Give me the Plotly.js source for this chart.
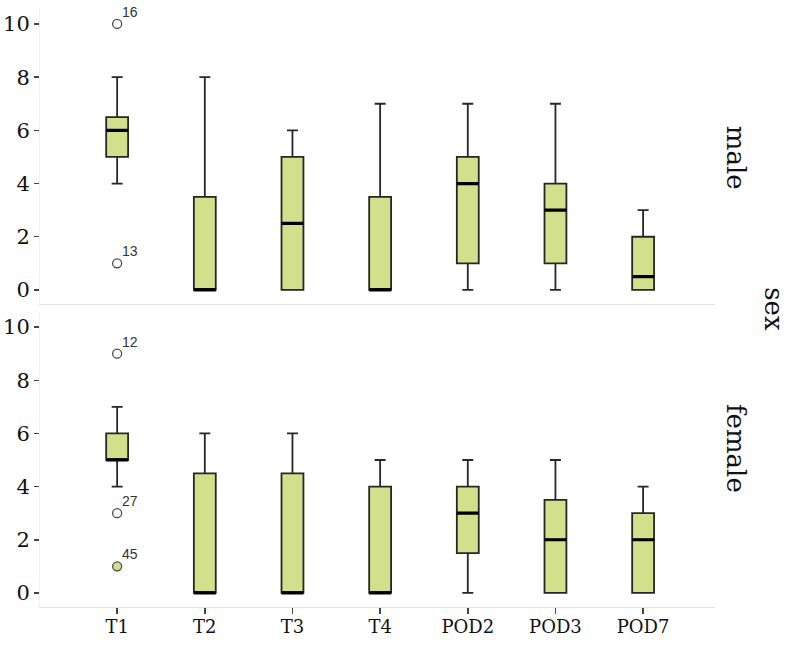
<!DOCTYPE html>
<html>
<head>
<meta charset="utf-8">
<script src="https://cdn.plot.ly/plotly-3.0.1.min.js"></script>
<style>
  html, body { margin: 0; padding: 0; background: #ffffff; }
  #chart { width: 794px; height: 650px; }
</style>
</head>
<body>
<div id="chart"></div>
<script>
// ---- data ----
var categories = ['T1', 'T2', 'T3', 'T4', 'POD2', 'POD3', 'POD7'];
var yTickValues = [0, 2, 4, 6, 8, 10];

// male panel box statistics
var maleQ1         = [5,   0,   0,   0,   1,   1,   0];
var maleMedian     = [6,   0,   2.5, 0,   4,   3,   0.5];
var maleQ3         = [6.5, 3.5, 5,   3.5, 5,   4,   2];
var maleLowerFence = [4,   0,   0,   0,   0,   0,   0];
var maleUpperFence = [8,   8,   6,   7,   7,   7,   3];
var maleOutlierX      = ['T1', 'T1'];
var maleOutlierY      = [10, 1];
var maleOutlierLabels = ['16', '13'];

// female panel box statistics
var femaleQ1         = [5, 0,   0,   0, 1.5, 0,   0];
var femaleMedian     = [5, 0,   0,   0, 3,   2,   2];
var femaleQ3         = [6, 4.5, 4.5, 4, 4,   3.5, 3];
var femaleLowerFence = [4, 0,   0,   0, 0,   0,   0];
var femaleUpperFence = [7, 6,   6,   5, 5,   5,   4];
var femaleOutlierX      = ['T1', 'T1', 'T1'];
var femaleOutlierY      = [9, 3, 1];
var femaleOutlierLabels = ['12', '27', '45'];

var panelLabels = ['male', 'female'];
var facetTitle = 'sex';

// ---- styles ----
var boxFill = '#d3e08b';
var boxLine = '#262626';
var boxWidth = 0.25;
var serif = 'DejaVu Serif, serif';
var sans = 'Liberation Sans, Arial, sans-serif';

function boxTrace(q1, med, q3, lo, hi, xa, ya) {
  return {
    type: 'box', x: categories, q1: q1, median: med, q3: q3,
    lowerfence: lo, upperfence: hi,
    xaxis: xa, yaxis: ya,
    width: boxWidth, whiskerwidth: 0.5,
    fillcolor: boxFill,
    line: { color: boxLine, width: 1.8 },
    boxpoints: false, showlegend: false, hoverinfo: 'skip'
  };
}
function medianTrace(med, xa, ya) {
  return {
    type: 'box', x: categories, q1: med, median: med, q3: med,
    lowerfence: med, upperfence: med,
    xaxis: xa, yaxis: ya,
    width: boxWidth, whiskerwidth: 0.5,
    fillcolor: 'rgba(0,0,0,0)',
    line: { color: '#000000', width: 3.2 },
    boxpoints: false, showlegend: false, hoverinfo: 'skip'
  };
}
function outlierTrace(xs, ys, colors, xa, ya) {
  return {
    type: 'scatter', mode: 'markers',
    x: xs, y: ys,
    marker: { symbol: 'circle', size: 9, color: colors,
              line: { color: '#4a4a4a', width: 1.3 } },
    xaxis: xa, yaxis: ya, showlegend: false, hoverinfo: 'skip', cliponaxis: false
  };
}
function outlierLabels(xs, ys, labels, xa, ya) {
  return labels.map(function (t, i) {
    return { text: t, x: xs[i], y: ys[i], xref: xa, yref: ya,
      xanchor: 'left', yanchor: 'middle', xshift: 3, yshift: 12,
      showarrow: false, font: { family: sans, size: 14, color: '#333333' } };
  });
}

var data = [
  boxTrace(maleQ1, maleMedian, maleQ3, maleLowerFence, maleUpperFence, 'x', 'y'),
  medianTrace(maleMedian, 'x', 'y'),
  outlierTrace(maleOutlierX, maleOutlierY, ['#ffffff', '#ffffff'], 'x', 'y'),
  boxTrace(femaleQ1, femaleMedian, femaleQ3, femaleLowerFence, femaleUpperFence, 'x2', 'y2'),
  medianTrace(femaleMedian, 'x2', 'y2'),
  outlierTrace(femaleOutlierX, femaleOutlierY, ['#ffffff', '#ffffff', boxFill], 'x2', 'y2')
];

var xCommon = {
  type: 'category', categoryorder: 'array', categoryarray: categories,
  range: [-0.88, 6.82], showgrid: false, zeroline: false,
  showline: true, linecolor: '#e2e4e2', linewidth: 1, fixedrange: true
};
var yCommon = {
  tickvals: yTickValues, ticks: 'outside', ticklen: 5, tickwidth: 1.5, tickcolor: '#444444',
  tickfont: { family: serif, size: 21, color: '#111111' },
  showgrid: false, zeroline: false, showline: true, linecolor: '#f2f3f2', linewidth: 1,
  fixedrange: true
};

var annotations = [
  { text: panelLabels[0], xref: 'paper', yref: 'paper', x: 1.031, y: 0.75,
    xanchor: 'center', yanchor: 'middle', showarrow: false, textangle: 90,
    font: { family: serif, size: 26, color: '#111111' } },
  { text: panelLabels[1], xref: 'paper', yref: 'paper', x: 1.031, y: 0.264,
    xanchor: 'center', yanchor: 'middle', showarrow: false, textangle: 90,
    font: { family: serif, size: 26, color: '#111111' } },
  { text: facetTitle, xref: 'paper', yref: 'paper', x: 1.087, y: 0.4975,
    xanchor: 'center', yanchor: 'middle', showarrow: false, textangle: 90,
    font: { family: serif, size: 26, color: '#111111' } }
].concat(outlierLabels(maleOutlierX, maleOutlierY, maleOutlierLabels, 'x', 'y'))
 .concat(outlierLabels(femaleOutlierX, femaleOutlierY, femaleOutlierLabels, 'x2', 'y2'));

var layout = {
  width: 794, height: 650,
  margin: { l: 40, r: 79, t: 8, b: 43 },
  paper_bgcolor: '#ffffff', plot_bgcolor: '#ffffff',
  boxmode: 'overlay',
  showlegend: false,
  xaxis: Object.assign({}, xCommon, { anchor: 'y', showticklabels: false, ticks: '' }),
  xaxis2: Object.assign({}, xCommon, {
    anchor: 'y2', ticks: 'outside', ticklen: 6, tickwidth: 1.5, tickcolor: '#444444',
    tickfont: { family: serif, size: 18, color: '#111111' }, ticklabelstandoff: -3
  }),
  yaxis: Object.assign({}, yCommon, { domain: [0.5058, 1], range: [-0.53, 10.6], anchor: 'x' }),
  yaxis2: Object.assign({}, yCommon, { domain: [0, 0.4908], range: [-0.53, 10.53], anchor: 'x2' }),
  annotations: annotations
};

Plotly.newPlot('chart', data, layout, { displayModeBar: false, staticPlot: true });
</script>
</body>
</html>
